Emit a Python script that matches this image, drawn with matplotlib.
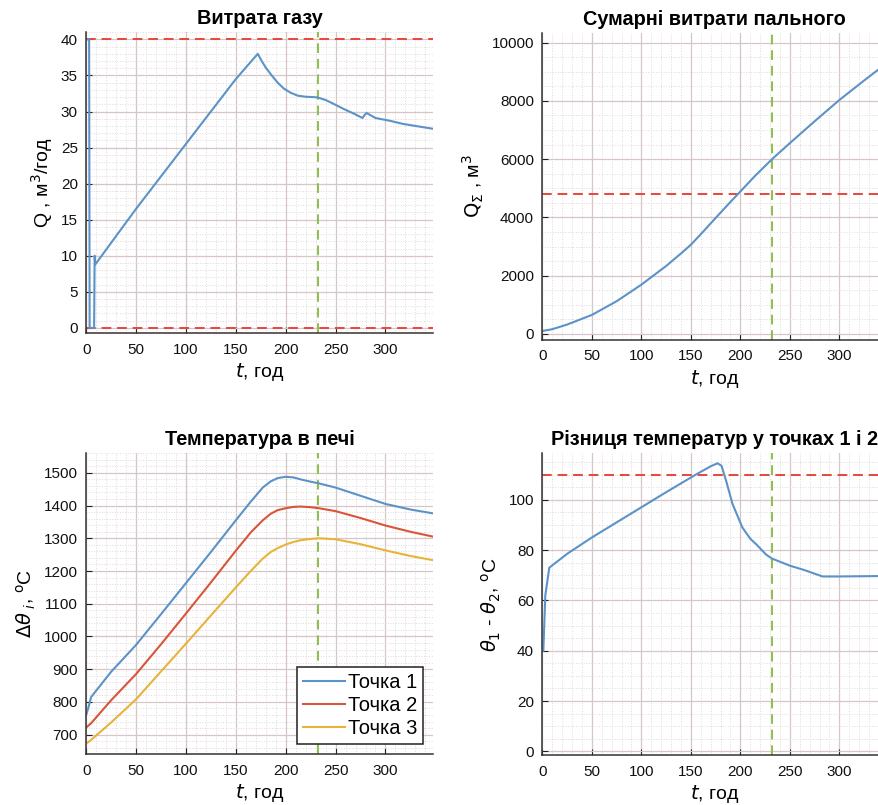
import matplotlib.pyplot as plt
from matplotlib.ticker import MultipleLocator
import numpy as np

plt.rcParams['font.family'] = ['Liberation Sans', 'DejaVu Sans']
plt.rcParams['mathtext.fontset'] = 'dejavusans'

# time marker
t_mark = 232

# gas flow, m3/h
t_gas = [0, 3, 3.5, 8, 8.5, 9.2, 50, 100, 150, 172, 176, 180, 186, 192, 198, 205, 212, 220, 228, 232,
         240, 246, 259, 270, 277, 279, 281, 290, 305, 317, 330, 348]
q_gas = [40, 40, 0, 0, 10, 8.8, 16.5, 25.5, 34.5, 38, 37.0, 36.1, 35.0, 34.0, 33.2, 32.6, 32.2, 32.05, 32.0, 31.95,
         31.6, 31.2, 30.3, 29.6, 29.1, 29.5, 29.8, 29.1, 28.7, 28.3, 28.0, 27.6]
q_gas_limits = [40, 0]

# cumulative fuel, m3
t_sum = [0, 10, 25, 50, 75, 100, 125, 140, 150, 160, 175, 190, 200, 215, 232, 250, 275, 300, 325, 348]
q_sum = [100, 160, 320, 650, 1120, 1690, 2330, 2760, 3060, 3420, 3980, 4530, 4890, 5430, 6000, 6550, 7300, 8030, 8700, 9300]
q_sum_limit = 4800

# furnace temperatures
t_temp = [0, 2, 5, 25, 50, 75, 100, 125, 150, 165, 177, 185, 192, 200, 208, 215, 225, 233, 250, 275, 300, 325, 348]
temp1 = [760, 780, 815, 892, 974, 1068, 1163, 1258, 1355, 1412, 1455, 1474, 1484, 1488, 1486, 1480, 1473, 1468, 1455, 1430, 1405, 1388, 1376]
temp2 = [722, 727, 735, 805, 885, 976, 1070, 1165, 1262, 1318, 1355, 1375, 1386, 1392, 1396, 1397, 1395, 1392, 1383, 1362, 1339, 1320, 1305]
temp3 = [673, 677, 684, 737, 808, 893, 978, 1064, 1150, 1200, 1238, 1258, 1270, 1281, 1289, 1294, 1298, 1300, 1297, 1282, 1263, 1246, 1233]
temp_labels = ['Точка 1', 'Точка 2', 'Точка 3']

# temperature difference between points 1 and 2
t_diff = [1, 3, 7, 25, 50, 75, 100, 125, 155, 170, 177, 181, 186, 192, 202, 210, 216, 226, 232, 250, 265, 283, 300, 348]
d_diff = [40, 62, 73, 78.5, 85, 91, 97, 103, 110, 113.3, 114.5, 113.5, 107, 98.4, 89, 84.5, 82.3, 78.2, 76.6, 73.8, 72, 69.5, 69.5, 69.7]
d_diff_limit = 110

blue = '#5b93c8'
red = '#d9553a'
yellow = '#e8b33a'
lim_red = '#e8453c'
mark_green = '#8cc04a'

fig = plt.figure(figsize=(8.79, 8.05), dpi=100)


def make_axes(rect, title, xlim, ylim, ymajor, yminor, ylabel):
    ax = fig.add_axes(rect)
    ax.set_xlim(*xlim)
    ax.set_ylim(*ylim)
    ax.xaxis.set_major_locator(MultipleLocator(50))
    ax.xaxis.set_minor_locator(MultipleLocator(10))
    ax.yaxis.set_major_locator(MultipleLocator(ymajor))
    ax.yaxis.set_minor_locator(MultipleLocator(yminor))
    ax.grid(which='major', color='#d6c6c6', linewidth=0.9)
    ax.grid(which='minor', color='#e2d8d8', linewidth=0.7, linestyle=':')
    ax.set_axisbelow(True)
    for s in ['top', 'right']:
        ax.spines[s].set_visible(False)
    for s in ['left', 'bottom']:
        ax.spines[s].set_color('#333333')
        ax.spines[s].set_linewidth(1.1)
    ax.tick_params(which='both', direction='in', labelsize=11, colors='#222222', labelcolor='#111111')
    ax.tick_params(axis='x', which='major', length=4, pad=7)
    ax.tick_params(axis='y', which='major', length=4, pad=6)
    ax.tick_params(which='minor', length=0)
    ax.set_title(title, fontsize=14.3, fontweight='bold', pad=6)
    ax.set_xlabel('$t$, год', fontsize=14, labelpad=3)
    ax.set_ylabel(ylabel, fontsize=14)
    ax.axvline(t_mark, color=mark_green, linestyle='--', linewidth=1.4, dashes=(5, 3))
    return ax


# top left
ax1 = make_axes([0.098, 0.586, 0.395, 0.374], 'Витрата газу', (0, 348), (-0.75, 41),
                5, 1, 'Q , м$^3$/год')
for v in q_gas_limits:
    ax1.axhline(v, color=lim_red, linestyle='--', linewidth=1.4, dashes=(5, 3))
ax1.plot(t_gas, q_gas, color=blue, linewidth=1.5)

# top right
ax2 = make_axes([0.617, 0.578, 0.392, 0.381], 'Сумарні витрати пального', (0, 348), (-200, 10330),
                2000, 500, '$\\mathrm{Q}_{\\Sigma}$ , м$^3$')
ax2.axhline(q_sum_limit, color=lim_red, linestyle='--', linewidth=1.4, dashes=(5, 3))
ax2.plot(t_sum, q_sum, color=blue, linewidth=1.5)

# bottom left
ax3 = make_axes([0.098, 0.063, 0.395, 0.374], 'Температура в печі', (0, 348), (640, 1560),
                100, 20, '$\\Delta\\theta_{\\ i}$, $^{\\mathrm{o}}$C')
for vals, c, lab in zip([temp1, temp2, temp3], [blue, red, yellow], temp_labels):
    ax3.plot(t_temp, vals, color=c, linewidth=1.5, label=lab)
leg = ax3.legend(loc='lower right', fontsize=14.5, fancybox=False, framealpha=1,
                 edgecolor='#222222', borderaxespad=0.5, handlelength=2.1,
                 handletextpad=0.15, labelspacing=0.2, borderpad=0.3)
leg.get_frame().set_linewidth(1.1)

# bottom right
ax4 = make_axes([0.617, 0.062, 0.392, 0.375], 'Різниця температур у точках 1 і 2', (0, 348), (-1.5, 118.5),
                20, 5, '$\\theta_1$ - $\\theta_2$, $^{\\mathrm{o}}$C')
ax4.axhline(d_diff_limit, color=lim_red, linestyle='--', linewidth=1.4, dashes=(5, 3))
ax4.plot(t_diff, d_diff, color=blue, linewidth=1.5)

fig.savefig('out.png', dpi=100)
